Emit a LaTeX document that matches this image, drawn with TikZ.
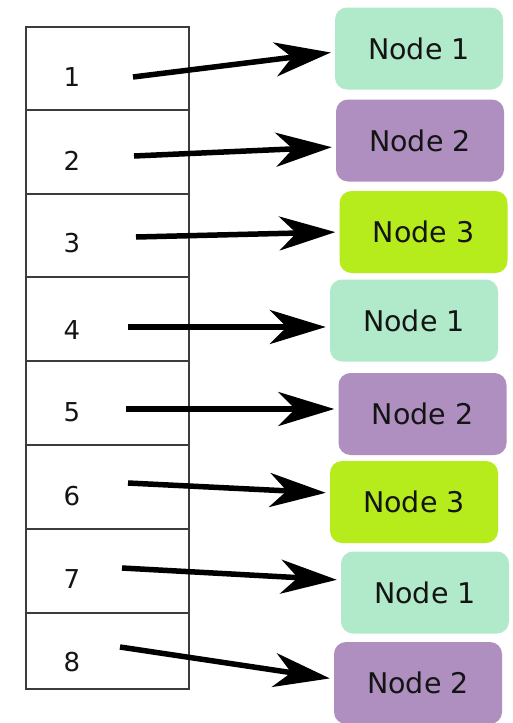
\documentclass[tikz,border=0pt]{standalone}
\usepackage{fontspec}
\setmainfont{DejaVu Sans}
\usetikzlibrary{arrows.meta}
\definecolor{mint}{HTML}{B1EACB}
\definecolor{lilac}{HTML}{AE8FBF}
\definecolor{lime}{HTML}{B6EC1C}
\definecolor{gridline}{HTML}{3C3C3C}
\definecolor{ink}{HTML}{141414}
\begin{document}
\begin{tikzpicture}[x=1pt,y=-1pt,
  cell/.style={draw=gridline,line width=1.6pt,minimum width=163pt,inner sep=0pt,anchor=north west},
  num/.style={font=\fontsize{26}{26}\selectfont,text=ink,inner sep=0pt},
  hashbox/.style={rounded corners=12pt,minimum width=168pt,minimum height=82pt,inner sep=0pt,
     font=\fontsize{28.5}{28.5}\selectfont,text=ink},
  pointer/.style={line width=5.5pt,-{Stealth[length=56pt,width=34pt,inset=17pt]},shorten >=4pt}]
\useasboundingbox (0,0) rectangle (513,723);
\fill[white] (0,0) rectangle (513,723);
% table cells
\node[cell,minimum height=83pt] (c1) at (25,26) {};
\node[cell,minimum height=84pt] (c2) at (25,109) {};
\node[cell,minimum height=83pt] (c3) at (25,193) {};
\node[cell,minimum height=84pt] (c4) at (25,276) {};
\node[cell,minimum height=84pt] (c5) at (25,360) {};
\node[cell,minimum height=84pt] (c6) at (25,444) {};
\node[cell,minimum height=84pt] (c7) at (25,528) {};
\node[cell,minimum height=76pt] (c8) at (25,612) {};
% numbers
\node[num] (k1) at (72,77) {1};
\node[num] (k2) at (72,161) {2};
\node[num] (k3) at (72,243) {3};
\node[num] (k4) at (72,330) {4};
\node[num] (k5) at (72,412) {5};
\node[num] (k6) at (72,496) {6};
\node[num] (k7) at (72,579) {7};
\node[num] (k8) at (72,662) {8};
% target nodes
\node[hashbox,fill=mint]  (n1) at (419,48.5) {Node 1};
\node[hashbox,fill=lilac] (n2) at (420,140.5) {Node 2};
\node[hashbox,fill=lime]  (n3) at (423.5,232) {Node 3};
\node[hashbox,fill=mint]  (n4) at (414,320.5) {Node 1};
\node[hashbox,fill=lilac] (n5) at (422.5,414) {Node 2};
\node[hashbox,fill=lime]  (n6) at (414,502) {Node 3};
\node[hashbox,fill=mint]  (n7) at (425,592.5) {Node 1};
\node[hashbox,fill=lilac] (n8) at (418,683) {Node 2};
% arrow start points
\coordinate (s1) at (133,77);
\coordinate (s2) at (134,156);
\coordinate (s3) at (136,237);
\coordinate (s4) at (128,327);
\coordinate (s5) at (126,409);
\coordinate (s6) at (128,483);
\coordinate (s7) at (122,568);
\coordinate (s8) at (120,647);
% arrows
\draw[pointer] (s1) -- ([yshift=-3.5pt]n1.west);
\draw[pointer] (s2) -- ([yshift=-6.5pt]n2.west);
\draw[pointer] (s3) -- (n3.west);
\draw[pointer] (s4) -- ([yshift=-6.5pt]n4.west);
\draw[pointer] (s5) -- ([yshift=5pt]n5.west);
\draw[pointer] (s6) -- ([yshift=9pt]n6.west);
\draw[pointer] (s7) -- ([yshift=12.5pt]n7.west);
\draw[pointer] (s8) -- ([yshift=4pt]n8.west);
\end{tikzpicture}
\end{document}
